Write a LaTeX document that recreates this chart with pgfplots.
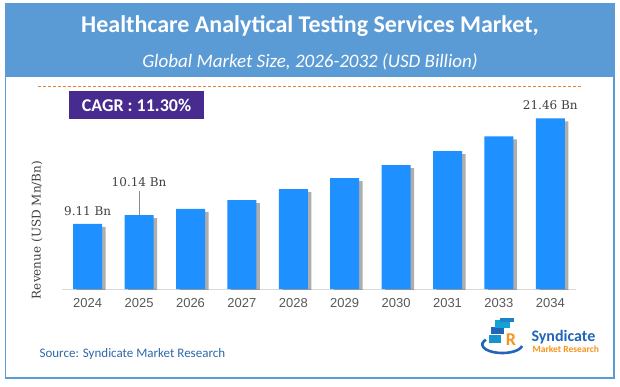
\documentclass[border=0pt]{standalone}
\usepackage{fontspec}
\setmainfont{Carlito}
\newfontfamily\arialf{Liberation Sans}
\newfontfamily\dserif{DejaVu Serif}
\usepackage{pgfplots}
\pgfplotsset{compat=1.18}
\usetikzlibrary{shadows}
\definecolor{titleblue}{RGB}{91,155,213}
\definecolor{barblue}{RGB}{30,144,255}
\definecolor{cagrpurple}{RGB}{72,43,143}
\definecolor{dashorange}{RGB}{237,125,49}
\definecolor{srcblue}{RGB}{46,104,170}
\definecolor{lblgray}{RGB}{64,64,64}
\definecolor{tickgray}{RGB}{89,89,89}
\definecolor{logoorange}{RGB}{247,148,29}
\definecolor{logoblue}{RGB}{33,100,185}
\begin{document}
\begin{tikzpicture}[x=1pt,y=1pt]
\path[use as bounding box] (0,0) rectangle (620,386);
\fill[white] (0,0) rectangle (620,386);
\fill[titleblue] (5.5,309) rectangle (614,382);
\draw[titleblue, line width=1.5] (5.5,8) rectangle (614,382);
\node[text=white, font=\bfseries\fontsize{24}{24}\selectfont] at (310,360) {Healthcare Analytical Testing Services Market,};
\node[text=white, font=\itshape\fontsize{19}{19}\selectfont] at (310,324.5) {Global Market Size, 2026-2032 (USD Billion)};
\draw[dashorange, dash pattern=on 3pt off 2pt, line width=0.8] (38,299.5) -- (581,299.5);
\fill[cagrpurple] (69,267) rectangle (204,295);
\node[text=white, font=\bfseries\fontsize{18}{18}\selectfont] at (136.5,281) {CAGR :\ 11.30\%};
\node[rotate=90, font=\dserif\fontsize{12}{12}\selectfont, text=lblgray] at (37,156) {Revenue (USD Mn/Bn)};
\node[font=\fontsize{13}{13}\selectfont, text=srcblue, anchor=west] at (36,32) {Source: Syndicate Market Research};
% logo
\draw[logoblue, line width=2.6] (522,40) arc[start angle=-10, end angle=-215, x radius=20, y radius=8.5];
\fill[logoblue!70!cyan] (489,43) rectangle (501,51);
\fill[logoblue] (491,52) rectangle (504,59);
\fill[logoblue!60!cyan] (495,58) rectangle (510,66);
\fill[logoblue!80!cyan] (500,64) rectangle (514,68);
\node[text=logoorange, font=\bfseries\fontsize{18}{18}\selectfont] at (511,46) {R};
\node[text=logoblue, font=\bfseries\fontsize{16}{16}\selectfont, anchor=west] at (528,49) {Syndicate};
\node[text=logoorange, font=\bfseries\fontsize{9.5}{9.5}\selectfont, anchor=west] at (529,37) {Market Research};
\begin{axis}[at={(62pt,97pt)}, anchor=south west, scale only axis,
  width=514pt, height=189pt,
  xmin=-0.5, xmax=9.5, ymin=1.5, ymax=23.61,
  ybar, bar width=29pt,
  clip mode=individual,
  hide y axis,
  axis x line*=bottom,
  x axis line style={-, draw=black!15, line width=0.8pt},
  xtick={0,...,9},
  xticklabels={2024,2025,2026,2027,2028,2029,2030,2031,2033,2034},
  major tick length=0pt,
  xticklabel style={font=\arialf\fontsize{13}{13}\selectfont, text=tickgray, yshift=-6pt},
]
\addplot[fill=barblue, draw=none, drop shadow={shadow xshift=3.5pt, shadow yshift=-3pt, opacity=0.45, fill=black!70}]
  coordinates {(0,9.11) (1,10.14) (2,10.86) (3,11.91) (4,13.19) (5,14.47) (6,15.99) (7,17.62) (8,19.36) (9,21.46)};
\node[font=\dserif\fontsize{12}{12}\selectfont, text=lblgray, yshift=13pt] at (axis cs:0,9.11) {9.11 Bn};
\draw[black!45, line width=0.6pt] (axis cs:1,10.14) -- ([yshift=24pt]axis cs:1,10.14);
\node[font=\dserif\fontsize{12}{12}\selectfont, text=lblgray, yshift=33pt] at (axis cs:1,10.14) {10.14 Bn};
\node[font=\dserif\fontsize{12}{12}\selectfont, text=lblgray, yshift=13pt] at (axis cs:9,21.46) {21.46 Bn};
\end{axis}
\end{tikzpicture}
\end{document}
